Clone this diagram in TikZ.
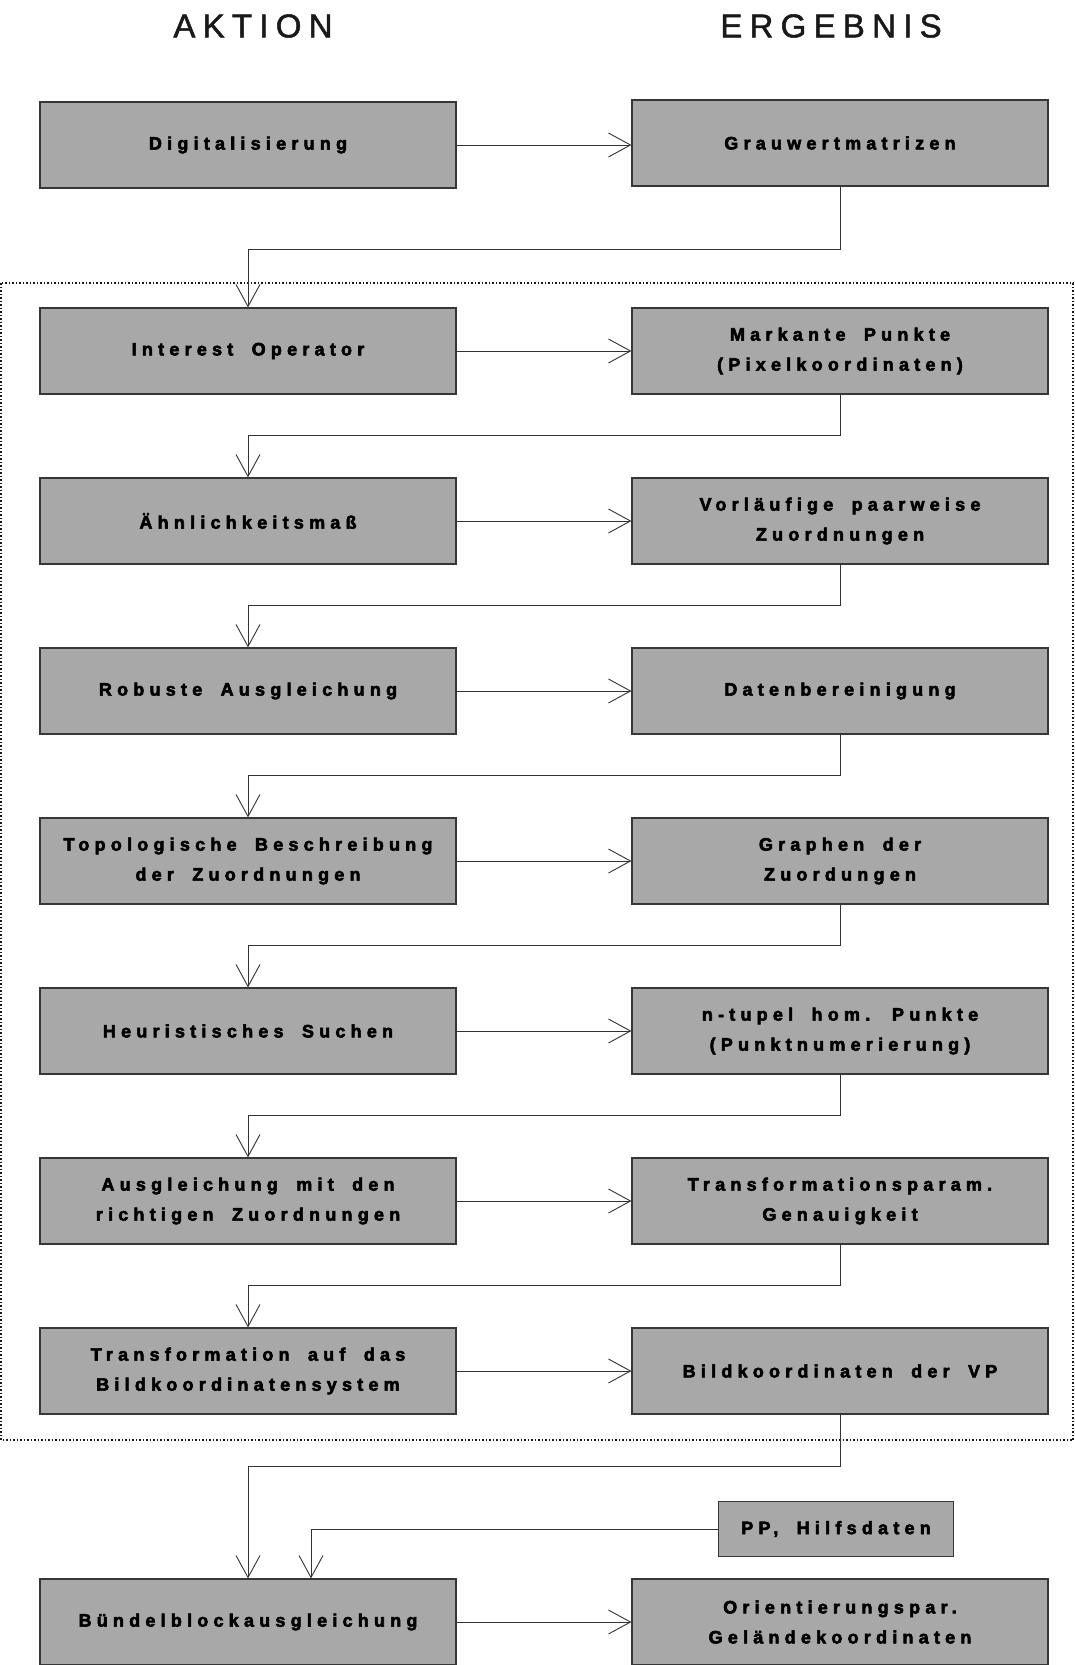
\documentclass[tikz,border=0pt]{standalone}
\usepackage{fontspec}
\usetikzlibrary{arrows.meta}
\newfontfamily\titlefont[LetterSpace=22,FakeBold=1.5]{Liberation Sans}
\newfontfamily\boxfont[LetterSpace=29,WordSpace=1.8,FakeBold=3]{Liberation Sans Bold}
\definecolor{boxgray}{RGB}{168,168,168}
\definecolor{edgegray}{RGB}{55,55,55}
\begin{document}
\begin{tikzpicture}[x=1pt,y=-1pt,
  stage/.style={draw=edgegray,line width=1.2pt,fill=boxgray,
    minimum width=416pt,minimum height=86pt,inner sep=0pt,align=center,
    font={\boxfont\fontsize{18}{30}\selectfont}},
  smallstage/.style={stage,minimum width=235pt,minimum height=55pt},
  heading/.style={font={\titlefont\fontsize{33}{36}\selectfont},text=black!90},
  arr/.style={line width=0.9pt,draw=black!80,
    -{Straight Barb[length=22pt,width=24pt,line width=0.9pt]}},
  frame/.style={line width=1.5pt,dotted,draw=black!90}]
\useasboundingbox (0,0) rectangle (1075,1665);

% column headings
\node[heading] (hA) at (253,26) {AKTION};
\node[heading] (hE) at (831,26) {ERGEBNIS};

% dotted frame around the matching steps
\draw[frame] (1,283) rectangle (1073,1440);

% action / result pairs
\node[stage] (l1) at (248,145) {Digitalisierung};
\node[stage] (r1) at (840,143) {Grauwertmatrizen};

\node[stage] (l2) at (248,351) {Interest Operator};
\node[stage] (r2) at (840,351) {Markante Punkte\\(Pixelkoordinaten)};

\node[stage] (l3) at (248,521) {Ähnlichkeitsmaß};
\node[stage] (r3) at (840,521) {Vorläufige paarweise\\Zuordnungen};

\node[stage] (l4) at (248,691) {Robuste Ausgleichung};
\node[stage] (r4) at (840,691) {Datenbereinigung};

\node[stage] (l5) at (248,861) {Topologische Beschreibung\\der Zuordnungen};
\node[stage] (r5) at (840,861) {Graphen der\\Zuordungen};

\node[stage] (l6) at (248,1031) {Heuristisches Suchen};
\node[stage] (r6) at (840,1031) {n-tupel hom. Punkte\\(Punktnumerierung)};

\node[stage] (l7) at (248,1201) {Ausgleichung mit den\\richtigen Zuordnungen};
\node[stage] (r7) at (840,1201) {Transformationsparam.\\Genauigkeit};

\node[stage] (l8) at (248,1371) {Transformation auf das\\Bildkoordinatensystem};
\node[stage] (r8) at (840,1371) {Bildkoordinaten der VP};

\node[smallstage] (pp) at (836,1529) {PP, Hilfsdaten};

\node[stage] (l9) at (248,1622) {Bündelblockausgleichung};
\node[stage] (r9) at (840,1622) {Orientierungspar.\\Geländekoordinaten};

% action -> result
\foreach \k in {1,...,9}
  \draw[arr] (l\k.east) -- (l\k.east -| r\k.west);

% result -> next action
\draw[arr] (r1.south) -- ++(0,63) -| (l2.north);
\foreach \k/\n in {2/3,3/4,4/5,5/6,6/7,7/8}
  \draw[arr] (r\k.south) -- ++(0,41) -| (l\n.north);
\draw[arr] (r8.south) -- ++(0,52) -| (l9.north);

% auxiliary data into the bundle adjustment
\draw[arr] (pp.west) -| ([xshift=63pt]l9.north);
\end{tikzpicture}
\end{document}
